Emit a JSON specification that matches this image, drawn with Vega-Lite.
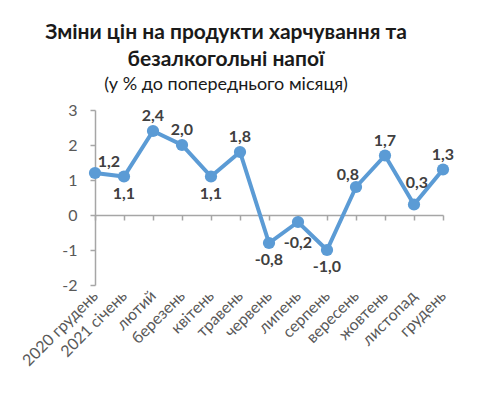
{
  "$schema": "https://vega.github.io/schema/vega-lite/v6.json",
  "width": 348,
  "height": 175,
  "autosize": "none",
  "padding": {"left": 95, "top": 110, "right": 37, "bottom": 108},
  "title": {
    "text": ["Зміни цін на продукти харчування та", "безалкогольні напої"],
    "subtitle": "(у % до попереднього місяця)",
    "frame": "group",
    "anchor": "middle",
    "dx": -43,
    "font": "Lato",
    "fontSize": 21,
    "fontWeight": "bold",
    "color": "#1a1a1a",
    "lineHeight": 27,
    "subtitleFont": "Lato",
    "subtitleFontSize": 18,
    "subtitleColor": "#1a1a1a",
    "subtitlePadding": 6,
    "offset": 8
  },
  "config": {
    "view": {"stroke": null},
    "locale": {"number": {"decimal": ",", "thousands": " ", "grouping": [3], "currency": ["", ""], "minus": "-"}},
    "axis": {"labelFont": "Lato", "labelFontSize": 16, "labelColor": "#595959", "domainColor": "#A6A6A6", "tickColor": "#A6A6A6", "domainWidth": 1.5, "tickWidth": 1.5, "grid": false, "title": null}
  },
  "data": {
    "values": [
      {"month": "2020 грудень", "value": 1.2, "pos": "right"},
      {"month": "2021 січень", "value": 1.1, "pos": "below"},
      {"month": "лютий", "value": 2.4, "pos": "above"},
      {"month": "березень", "value": 2.0, "pos": "above"},
      {"month": "квітень", "value": 1.1, "pos": "below"},
      {"month": "травень", "value": 1.8, "pos": "above"},
      {"month": "червень", "value": -0.8, "pos": "below"},
      {"month": "липень", "value": -0.2, "pos": "below-far"},
      {"month": "серпень", "value": -1.0, "pos": "below"},
      {"month": "вересень", "value": 0.8, "pos": "left"},
      {"month": "жовтень", "value": 1.7, "pos": "above"},
      {"month": "листопад", "value": 0.3, "pos": "above-far"},
      {"month": "грудень", "value": 1.3, "pos": "above"}
    ]
  },
  "encoding": {
    "x": {
      "field": "month", "type": "ordinal", "sort": null,
      "scale": {"type": "point", "padding": 0},
      "axis": {"orient": "bottom", "offset": -70, "labelAngle": -45, "labelPadding": 73, "tickSize": 5, "labelAlign": "right", "labelBaseline": "middle"}
    },
    "y": {
      "field": "value", "type": "quantitative",
      "scale": {"domain": [-2, 3], "nice": false},
      "axis": {"values": [-2, -1, 0, 1, 2, 3], "tickSize": 5, "labelPadding": 13, "format": "d"}
    }
  },
  "layer": [
    {"mark": {"type": "line", "color": "#5B9BD5", "strokeWidth": 4}},
    {"mark": {"type": "point", "filled": true, "opacity": 1, "color": "#5B9BD5", "size": 150}},
    {
      "transform": [{"filter": "datum.pos === 'above'"}],
      "mark": {"type": "text", "font": "Lato", "fontSize": 16, "fontWeight": "bold", "color": "#404040", "dy": -15},
      "encoding": {"text": {"field": "value", "type": "quantitative", "format": ".1f"}}
    },
    {
      "transform": [{"filter": "datum.pos === 'above-far'"}],
      "mark": {"type": "text", "font": "Lato", "fontSize": 16, "fontWeight": "bold", "color": "#404040", "dy": -22, "dx": 3},
      "encoding": {"text": {"field": "value", "type": "quantitative", "format": ".1f"}}
    },
    {
      "transform": [{"filter": "datum.pos === 'below'"}],
      "mark": {"type": "text", "font": "Lato", "fontSize": 16, "fontWeight": "bold", "color": "#404040", "dy": 17},
      "encoding": {"text": {"field": "value", "type": "quantitative", "format": ".1f"}}
    },
    {
      "transform": [{"filter": "datum.pos === 'below-far'"}],
      "mark": {"type": "text", "font": "Lato", "fontSize": 16, "fontWeight": "bold", "color": "#404040", "dy": 21},
      "encoding": {"text": {"field": "value", "type": "quantitative", "format": ".1f"}}
    },
    {
      "transform": [{"filter": "datum.pos === 'right'"}],
      "mark": {"type": "text", "font": "Lato", "fontSize": 16, "fontWeight": "bold", "color": "#404040", "dx": 14, "dy": -11},
      "encoding": {"text": {"field": "value", "type": "quantitative", "format": ".1f"}}
    },
    {
      "transform": [{"filter": "datum.pos === 'left'"}],
      "mark": {"type": "text", "font": "Lato", "fontSize": 16, "fontWeight": "bold", "color": "#404040", "dx": -8, "dy": -12},
      "encoding": {"text": {"field": "value", "type": "quantitative", "format": ".1f"}}
    }
  ]
}
